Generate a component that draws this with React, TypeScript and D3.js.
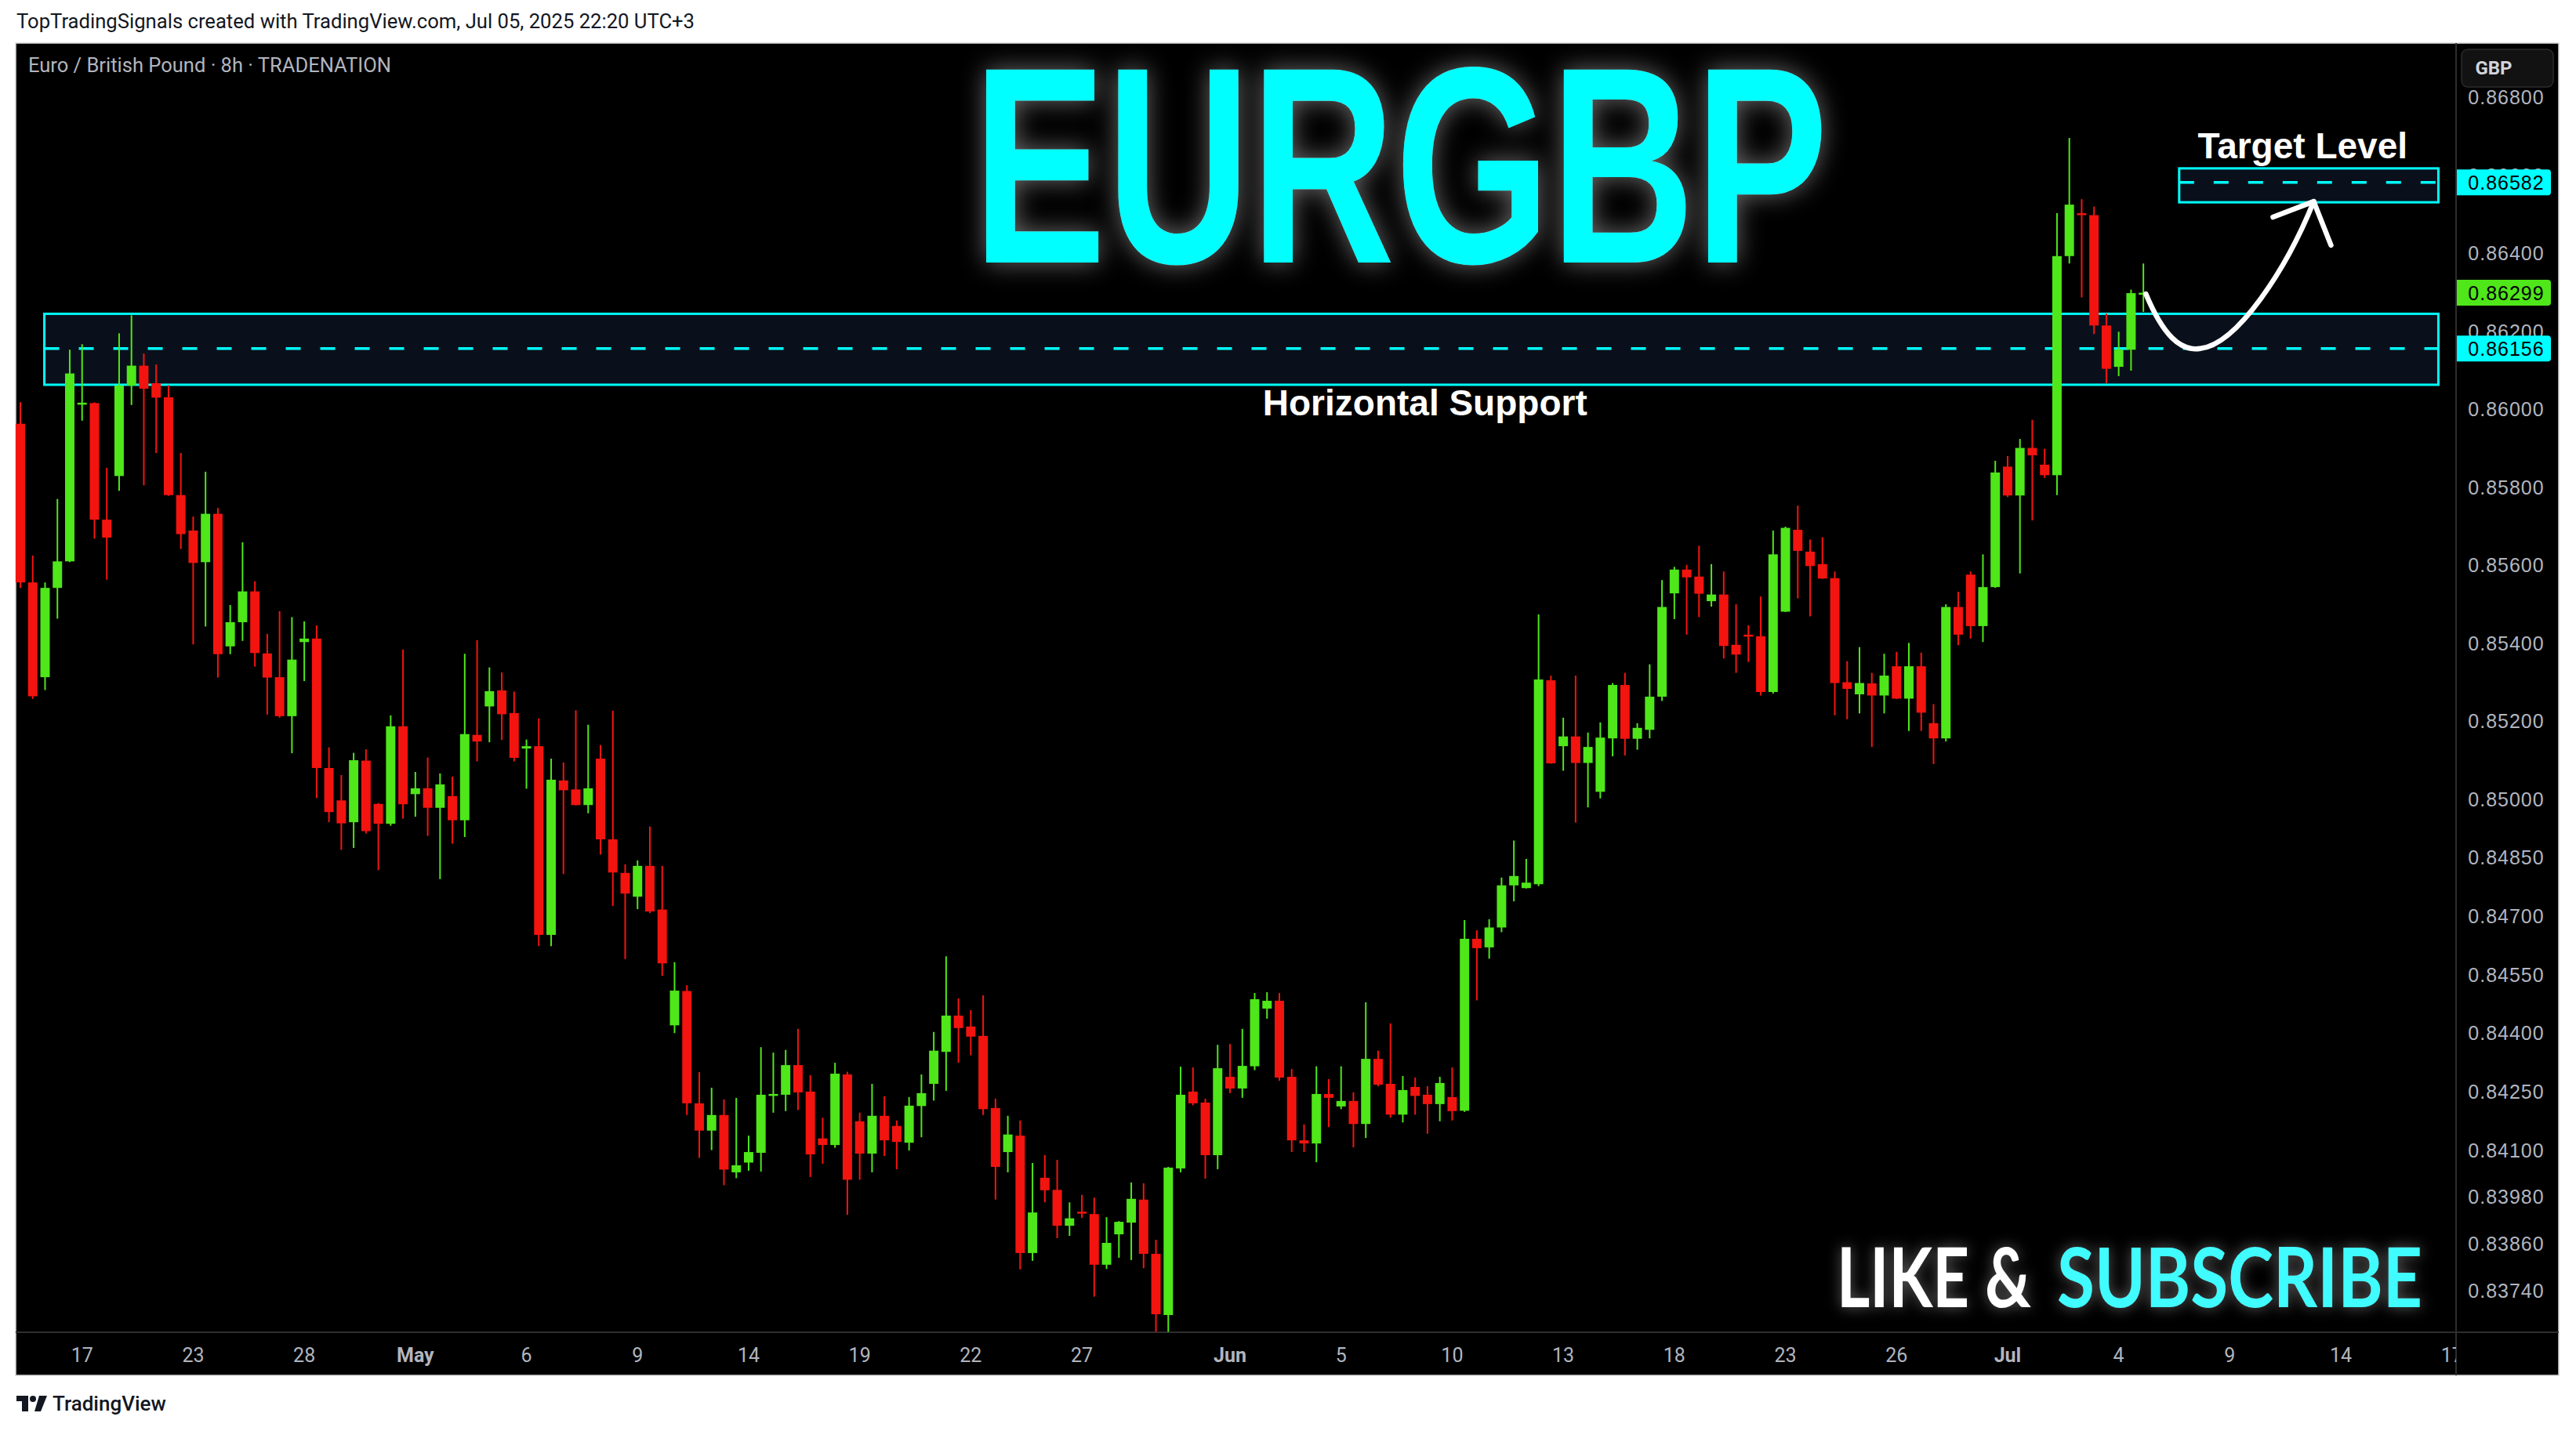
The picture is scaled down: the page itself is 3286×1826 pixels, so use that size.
import React from "react";
import * as d3 from "d3";

// 8h candles, EURGBP, mid April -> Jul 4 2025
const opens = [
  0.85963, 0.85556, 0.85313, 0.85542, 0.8561, 0.86015, 0.86016, 0.85717, 0.85829, 0.86061,
  0.86112, 0.86067, 0.86031, 0.8578, 0.85689, 0.85608, 0.85732, 0.85392, 0.85454, 0.85533,
  0.85374, 0.85313, 0.85213, 0.85403, 0.85412, 0.8508, 0.84997, 0.84941, 0.85099, 0.84988,
  0.84937, 0.85187, 0.85013, 0.85028, 0.84978, 0.85008, 0.84946, 0.85165, 0.85238, 0.85279,
  0.85221, 0.8513, 0.85136, 0.84652, 0.85048, 0.85025, 0.84985, 0.85104, 0.84897, 0.84811,
  0.8475, 0.84829, 0.84717, 0.8442, 0.84508, 0.8422, 0.8415, 0.8419, 0.84043, 0.84068,
  0.84093, 0.84239, 0.84242, 0.84318, 0.8425, 0.8413, 0.84113, 0.84294, 0.84174, 0.84091,
  0.84188, 0.84162, 0.84119, 0.84213, 0.8427, 0.84352, 0.84445, 0.84417, 0.84393, 0.84208,
  0.84095, 0.84137, 0.83836, 0.84029, 0.83998, 0.83906, 0.83942, 0.83936, 0.83806, 0.83884,
  0.83914, 0.83973, 0.83834, 0.83677, 0.84053, 0.8425, 0.84222, 0.84087, 0.84288, 0.84258,
  0.84315, 0.84463, 0.84483, 0.84288, 0.84125, 0.84117, 0.84244, 0.84212, 0.84226, 0.84167,
  0.84334, 0.8427, 0.84191, 0.84262, 0.84242, 0.84218, 0.84236, 0.84201, 0.84642, 0.8462,
  0.84671, 0.84779, 0.84772, 0.84782, 0.85305, 0.85136, 0.85161, 0.85093, 0.85019, 0.85156,
  0.85293, 0.85155, 0.85178, 0.85263, 0.85528, 0.85589, 0.85571, 0.85508, 0.85525, 0.85396,
  0.85422, 0.85418, 0.85275, 0.85481, 0.85691, 0.85635, 0.85603, 0.85567, 0.853, 0.85269,
  0.85297, 0.85266, 0.85341, 0.85258, 0.85341, 0.85195, 0.85156, 0.85493, 0.85576, 0.85444,
  0.85544, 0.85853, 0.85779, 0.85901, 0.85858, 0.85831, 0.86393, 0.86503, 0.86498, 0.86215,
  0.86109, 0.86153, 0.86298,
];
const highs = [
  0.86018, 0.85625, 0.85556, 0.8577, 0.86153, 0.86167, 0.86018, 0.8585, 0.86195, 0.86241,
  0.86143, 0.86115, 0.86062, 0.85888, 0.85725, 0.8584, 0.85747, 0.85498, 0.85659, 0.85559,
  0.85424, 0.85482, 0.85467, 0.85456, 0.85446, 0.85133, 0.85062, 0.85119, 0.85128, 0.8499,
  0.85215, 0.85384, 0.8507, 0.85107, 0.85066, 0.85058, 0.85373, 0.85408, 0.85338, 0.85325,
  0.85276, 0.85153, 0.85207, 0.85104, 0.85094, 0.85228, 0.85191, 0.85139, 0.85227, 0.84833,
  0.84843, 0.8493, 0.84829, 0.84582, 0.84523, 0.843, 0.8426, 0.8423, 0.84234, 0.84137,
  0.84364, 0.8435, 0.84357, 0.84411, 0.84292, 0.84183, 0.84324, 0.84301, 0.84196, 0.8427,
  0.84238, 0.84176, 0.84236, 0.84294, 0.84403, 0.84597, 0.84489, 0.84459, 0.84497, 0.84232,
  0.84188, 0.84176, 0.84067, 0.84087, 0.84075, 0.83966, 0.83985, 0.83978, 0.83928, 0.83918,
  0.84017, 0.84015, 0.8387, 0.84057, 0.84314, 0.84312, 0.84232, 0.8437, 0.84372, 0.84411,
  0.84503, 0.84505, 0.84503, 0.84308, 0.84166, 0.84315, 0.84282, 0.84315, 0.84248, 0.84479,
  0.84355, 0.84425, 0.8429, 0.84286, 0.84264, 0.84288, 0.84312, 0.8469, 0.84664, 0.84692,
  0.84799, 0.84894, 0.84847, 0.85474, 0.85317, 0.85209, 0.85317, 0.85171, 0.85197, 0.85298,
  0.85324, 0.85195, 0.85346, 0.85562, 0.85596, 0.85601, 0.8565, 0.85603, 0.85584, 0.855,
  0.85446, 0.8552, 0.85689, 0.85699, 0.85753, 0.85666, 0.85672, 0.85584, 0.85354, 0.8539,
  0.85324, 0.85373, 0.85378, 0.85401, 0.85376, 0.85244, 0.855, 0.85532, 0.85584, 0.85628,
  0.85868, 0.8588, 0.85924, 0.85973, 0.85899, 0.86503, 0.86696, 0.86539, 0.8652, 0.86246,
  0.86199, 0.86307, 0.86374,
];
const lows = [
  0.85542, 0.85257, 0.8528, 0.85463, 0.85608, 0.85971, 0.85668, 0.85563, 0.85791, 0.86011,
  0.85805, 0.85888, 0.85778, 0.85642, 0.85397, 0.85443, 0.85312, 0.85372, 0.85406, 0.8534,
  0.85217, 0.85209, 0.85118, 0.85303, 0.85003, 0.84941, 0.8487, 0.84875, 0.84912, 0.84818,
  0.84932, 0.8495, 0.84955, 0.84906, 0.84795, 0.84886, 0.84903, 0.85097, 0.85146, 0.85152,
  0.85097, 0.85027, 0.84623, 0.84623, 0.84808, 0.84984, 0.84964, 0.84858, 0.84726, 0.8459,
  0.84718, 0.84708, 0.84547, 0.844, 0.8419, 0.8408, 0.841, 0.8401, 0.84028, 0.84047,
  0.84045, 0.84196, 0.842, 0.84203, 0.84031, 0.84065, 0.84106, 0.83934, 0.84024, 0.84043,
  0.84085, 0.84051, 0.84099, 0.84133, 0.84227, 0.84252, 0.84324, 0.84343, 0.8419, 0.83973,
  0.84043, 0.83794, 0.83816, 0.83966, 0.83874, 0.8388, 0.83926, 0.83724, 0.83795, 0.83824,
  0.83818, 0.83797, 0.83634, 0.83634, 0.84043, 0.84215, 0.84027, 0.84051, 0.84246, 0.84234,
  0.84305, 0.84437, 0.84278, 0.84095, 0.84095, 0.84069, 0.84159, 0.84205, 0.84107, 0.84131,
  0.84264, 0.84183, 0.84171, 0.84191, 0.84142, 0.84174, 0.84176, 0.84198, 0.84484, 0.84591,
  0.84659, 0.84738, 0.84771, 0.84777, 0.85091, 0.85073, 0.8494, 0.84979, 0.85002, 0.8511,
  0.85112, 0.85127, 0.85156, 0.85252, 0.85462, 0.85422, 0.85467, 0.85494, 0.85361, 0.85324,
  0.85352, 0.85266, 0.85271, 0.8548, 0.85515, 0.85469, 0.85565, 0.85215, 0.85205, 0.8522,
  0.85134, 0.8522, 0.85257, 0.85175, 0.85175, 0.8509, 0.85148, 0.85395, 0.85412, 0.85403,
  0.85542, 0.85775, 0.85579, 0.85715, 0.85824, 0.8578, 0.86374, 0.86287, 0.86193, 0.86067,
  0.86085, 0.86099, 0.8625,
];
const closes = [
  0.85556, 0.85264, 0.85542, 0.8561, 0.86092, 0.86017, 0.85717, 0.85671, 0.86061, 0.86112,
  0.86053, 0.8603, 0.8578, 0.8568, 0.85606, 0.85732, 0.85372, 0.85454, 0.85533, 0.85375,
  0.85312, 0.85213, 0.85358, 0.85412, 0.8508, 0.84967, 0.84938, 0.851, 0.84918, 0.84937,
  0.85187, 0.84987, 0.85028, 0.84978, 0.85038, 0.84946, 0.85167, 0.85148, 0.85277, 0.85218,
  0.85106, 0.85136, 0.84652, 0.8505, 0.85023, 0.84985, 0.85028, 0.84897, 0.84812, 0.84758,
  0.84829, 0.84712, 0.84579, 0.84509, 0.8422, 0.8415, 0.8419, 0.8405, 0.84061, 0.84095,
  0.84242, 0.84244, 0.84318, 0.84248, 0.84089, 0.84113, 0.84296, 0.84024, 0.84091, 0.84188,
  0.84125, 0.84121, 0.84214, 0.84246, 0.84355, 0.84445, 0.84413, 0.84391, 0.84205, 0.84057,
  0.8414, 0.83836, 0.8394, 0.83997, 0.83906, 0.83925, 0.83938, 0.83806, 0.83862, 0.83916,
  0.83975, 0.83834, 0.83679, 0.84055, 0.84242, 0.8422, 0.84087, 0.8431, 0.84258, 0.84316,
  0.84487, 0.84483, 0.84286, 0.84125, 0.84117, 0.84244, 0.84234, 0.84226, 0.84167, 0.84334,
  0.84268, 0.84191, 0.84254, 0.84239, 0.84218, 0.84272, 0.842, 0.84642, 0.84618, 0.84671,
  0.84779, 0.84803, 0.84786, 0.85307, 0.85092, 0.85161, 0.85093, 0.85134, 0.85158, 0.85293,
  0.85155, 0.85183, 0.85263, 0.85493, 0.85589, 0.85569, 0.85527, 0.85525, 0.85393, 0.85371,
  0.85418, 0.85275, 0.85628, 0.85696, 0.85637, 0.85598, 0.85566, 0.85298, 0.85283, 0.85298,
  0.85266, 0.85317, 0.85258, 0.85341, 0.85222, 0.85156, 0.85493, 0.85422, 0.85444, 0.85544,
  0.85838, 0.85779, 0.85901, 0.85882, 0.85831, 0.86393, 0.86525, 0.86498, 0.86215, 0.86104,
  0.86153, 0.86298, 0.86299,
];

// time axis: candle index of each label
const dateIndex = [5, 14, 23, 32, 41, 50, 59, 68, 77, 86, 98, 107, 116, 125, 134, 143, 152, 161, 170, 179, 188, 197];
const dateLabels = ["17", "23", "28", "May", "6", "9", "14", "19", "22", "27", "Jun", "5", "10", "13", "18", "23", "26", "Jul", "4", "9", "14", "17"];

const priceTicks = [
  0.868, 0.866, 0.864, 0.862, 0.86, 0.858, 0.856, 0.854, 0.852, 0.85,
  0.8485, 0.847, 0.8455, 0.844, 0.8425, 0.841, 0.8398, 0.8386, 0.8374,
];

// drawings
const supportLevel = 0.86156;
const supportZone = [0.86063, 0.86245];
const targetLevel = 0.86582;
const targetZone = [0.86531, 0.86618];
const lastClose = 0.86299;

const GREEN = "#4fe61a";
const RED = "#f3140f";
const CYAN = "#00ffff";
const AXIS_TEXT = "#b2b5be";

const W = 3286;
const H = 1826;
const P = { left: 20, right: 3133, top: 55, bottom: 1700, outerRight: 3264, outerBottom: 1755 };
const LABEL_CX = 3197;

export default function App() {
  const x = d3.scaleLinear().domain([0, 197]).range([26, 26 + 197 * 15.745]);
  const y = d3.scaleLinear().domain([0.836328, 0.869393]).range([P.bottom, P.top]);
  const step = x(1) - x(0);
  const bw = step * 0.76;

  const candles = opens.map((o, i) => ({ i, o, h: highs[i], l: lows[i], c: closes[i] }));

  const arrowPath = d3.path();
  arrowPath.moveTo(x(172.2), y(0.86296));
  arrowPath.bezierCurveTo(x(173.6), y(0.8619), x(175), y(0.86148), x(176.6), y(0.86156));
  arrowPath.bezierCurveTo(x(179.6), y(0.86166), x(183.6), y(0.8636), x(185.8), y(0.86533));
  const head = d3.path();
  head.moveTo(x(182.5), y(0.86493));
  head.lineTo(x(185.8), y(0.86533));
  head.lineTo(x(187.2), y(0.86421));

  return (
    <div style={{ position: "absolute", left: 0, top: 0, width: W, height: H, overflow: "hidden", background: "#fff" }}>
      <svg width={W} height={H} style={{ display: "block" }} fontFamily="Roboto, 'Liberation Sans', sans-serif">
        <defs>
          <clipPath id="plotClip">
            <rect x={P.left} y={P.top} width={P.right - P.left} height={P.bottom - P.top} />
          </clipPath>
          <clipPath id="timeClip">
            <rect x={P.left} y={P.bottom} width={P.right - P.left} height={P.outerBottom - P.bottom} />
          </clipPath>
          <filter id="glow" x="-20%" y="-60%" width="140%" height="220%">
            <feGaussianBlur in="SourceAlpha" stdDeviation="16" result="blur" />
            <feFlood floodColor="#ffffff" floodOpacity="0.42" />
            <feComposite in2="blur" operator="in" result="glowC" />
            <feMerge>
              <feMergeNode in="glowC" />
              <feMergeNode in="SourceGraphic" />
            </feMerge>
          </filter>
          <filter id="glowSmall" x="-5%" y="-40%" width="110%" height="180%">
            <feGaussianBlur in="SourceAlpha" stdDeviation="9" result="blur" />
            <feFlood floodColor="#ffffff" floodOpacity="0.38" />
            <feComposite in2="blur" operator="in" result="glowC" />
            <feMerge>
              <feMergeNode in="glowC" />
              <feMergeNode in="SourceGraphic" />
            </feMerge>
          </filter>
        </defs>

        {/* header */}
        <text x={21} y={36} fontSize={25} fill="#131722" textLength={865} lengthAdjust="spacingAndGlyphs">
          TopTradingSignals created with TradingView.com, Jul 05, 2025 22:20 UTC+3
        </text>

        {/* panel */}
        <rect x={P.left} y={P.top} width={P.outerRight - P.left} height={P.outerBottom - P.top} fill="#000" stroke="#d6d6d6" strokeWidth={1.5} />
        <line x1={P.right} x2={P.right} y1={P.top} y2={P.outerBottom} stroke="#2e2e2e" strokeWidth={2} />
        <line x1={P.left} x2={P.outerRight} y1={P.bottom} y2={P.bottom} stroke="#2e2e2e" strokeWidth={2} />

        <text x={36} y={92} fontSize={25} fill={AXIS_TEXT} textLength={463} lengthAdjust="spacingAndGlyphs">
          Euro / British Pound · 8h · TRADENATION
        </text>

        {/* zones */}
        <g>
          <rect x={x(1.94)} y={y(supportZone[1])} width={x(195.9) - x(1.94)} height={y(supportZone[0]) - y(supportZone[1])} fill="#0a101b" stroke={CYAN} strokeWidth={3} />
          <line x1={x(1.94)} x2={x(195.9)} y1={y(supportLevel)} y2={y(supportLevel)} stroke={CYAN} strokeWidth={3.5} strokeDasharray="19 25" />
          <rect x={x(174.9)} y={y(targetZone[1])} width={x(195.9) - x(174.9)} height={y(targetZone[0]) - y(targetZone[1])} fill="#0a101b" stroke={CYAN} strokeWidth={3} />
          <line x1={x(174.9)} x2={x(195.9)} y1={y(targetLevel)} y2={y(targetLevel)} stroke={CYAN} strokeWidth={3.5} strokeDasharray="19 25" />
        </g>

        {/* candles */}
        <g clipPath="url(#plotClip)">
          {candles.map((d) => {
            const col = d.c >= d.o ? GREEN : RED;
            const top = y(Math.max(d.o, d.c));
            const bot = y(Math.min(d.o, d.c));
            return (
              <g key={d.i}>
                <line x1={x(d.i)} x2={x(d.i)} y1={y(d.h)} y2={y(d.l)} stroke={col} strokeWidth={2} />
                <rect x={x(d.i) - bw / 2} y={top} width={bw} height={Math.max(2.5, bot - top)} fill={col} />
              </g>
            );
          })}
        </g>

        {/* title */}
        <text x={1241} y={335} fontSize={358} fontWeight={700} fontFamily="'Liberation Sans', Arial, sans-serif" fill={CYAN} textLength={1091} lengthAdjust="spacingAndGlyphs" filter="url(#glow)">
          EURGBP
        </text>

        <text x={x(113.8)} y={y(0.85984)} fontSize={46} fontWeight={700} fontFamily="'Liberation Sans', Arial, sans-serif" fill="#fff" textAnchor="middle">
          Horizontal Support
        </text>
        <text x={x(184.9)} y={y(0.86643)} fontSize={46} fontWeight={700} fontFamily="'Liberation Sans', Arial, sans-serif" fill="#fff" textAnchor="middle">
          Target Level
        </text>

        {/* arrow */}
        <path d={arrowPath.toString()} fill="none" stroke="#fff" strokeWidth={6.5} strokeLinecap="round" />
        <path d={head.toString()} fill="none" stroke="#fff" strokeWidth={6.5} strokeLinecap="round" strokeLinejoin="round" />

        {/* like & subscribe */}
        <g filter="url(#glowSmall)" fontFamily="Lato, 'Open Sans', sans-serif" fontWeight={700} fontSize={106}>
          <text x={2343} y={1668} fill="#fff" textLength={248} lengthAdjust="spacingAndGlyphs">LIKE &amp;</text>
          <text x={2624} y={1668} fill="#3ffcff" textLength={466} lengthAdjust="spacingAndGlyphs">SUBSCRIBE</text>
        </g>

        {/* price axis */}
        <g fontSize={25} fill={AXIS_TEXT} textAnchor="middle">
          {priceTicks.map((t) => (
            <text key={t} x={LABEL_CX} y={y(t)} dominantBaseline="central" fontFamily="'Liberation Sans', Arial, sans-serif" letterSpacing="1">
              {t.toFixed(5)}
            </text>
          ))}
        </g>
        {[
          { v: targetLevel, c: CYAN },
          { v: lastClose, c: GREEN },
          { v: supportLevel, c: CYAN },
        ].map((b) => (
          <g key={b.v}>
            <path
              d={`M${P.right + 1},${y(b.v) - 16.5} H${3250} a4,4 0 0 1 4,4 V${y(b.v) + 12.5} a4,4 0 0 1 -4,4 H${P.right + 1} Z`}
              fill={b.c}
            />
            <text x={LABEL_CX} y={y(b.v)} dominantBaseline="central" textAnchor="middle" fontSize={25} fill="#000" fontFamily="'Liberation Sans', Arial, sans-serif" letterSpacing="1">
              {b.v.toFixed(5)}
            </text>
          </g>
        ))}
        <rect x={3140} y={63} width={117} height={48} rx={8} fill="#121212" stroke="#2c2c2c" strokeWidth={1.5} />
        <text x={3181} y={87} textAnchor="middle" dominantBaseline="central" fontSize={24} fontWeight={700} fill="#d1d4dc">
          GBP
        </text>

        {/* time axis */}
        <g clipPath="url(#timeClip)" fontSize={25} fill={AXIS_TEXT} textAnchor="middle">
          {dateIndex.map((di, k) => (
            <text key={k} x={x(di)} y={1729} dominantBaseline="central" fontWeight={/[A-Za-z]/.test(dateLabels[k]) ? 700 : 400}>
              {dateLabels[k]}
            </text>
          ))}
        </g>

        {/* footer logo */}
        <g fill="#131722">
          <rect x={21} y={1781} width={15} height={7} />
          <rect x={28} y={1781} width={8} height={20} />
          <circle cx={42} cy={1785} r={4} />
          <path d="M50,1781 H60 L52,1801 H44 Z" />
        </g>
        <text x={67} y={1800} fontSize={26} fontWeight={500} fill="#131722">
          TradingView
        </text>
      </svg>
    </div>
  );
}
